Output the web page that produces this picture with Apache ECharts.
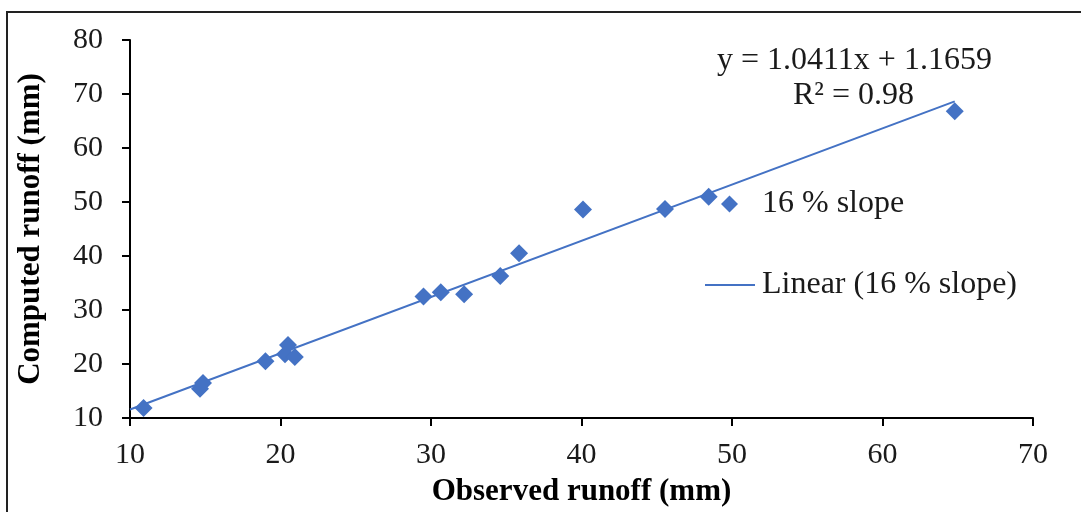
<!DOCTYPE html>
<html>
<head>
<meta charset="utf-8">
<script src="https://cdn.jsdelivr.net/npm/echarts@6/dist/echarts.min.js"></script>
<style>
  html, body { margin: 0; padding: 0; background: #fff; }
  #chart { width: 1081px; height: 512px; }
</style>
</head>
<body>
<div id="chart"></div>
<script>
// Observed vs computed runoff (mm), 16 % slope plots
const observed = [10.9, 14.65, 14.85, 19.0, 20.5, 20.3, 20.95, 29.5, 30.65, 32.2, 34.6, 35.85, 40.1, 45.55, 48.45, 64.8];
const computed = [11.85, 15.4, 16.5, 20.5, 23.5, 21.8, 21.3, 32.5, 33.3, 32.9, 36.3, 40.5, 48.6, 48.7, 50.95, 66.8];

// Linear trend line coefficients and fit quality
const trendSlope = 1.0411;
const trendIntercept = 1.1659;
const rSquared = 0.98;

const seriesName = '16 % slope';
const trendName = 'Linear (16 % slope)';

const xTicks = { min: 10, max: 70, interval: 10 };
const yTicks = { min: 10, max: 80, interval: 10 };

const points = observed.map((x, i) => [x, computed[i]]);
const trendX = [xTicks.min, Math.max(...observed)];
const trendLine = trendX.map(x => [x, trendSlope * x + trendIntercept]);

const blue = '#4472C4';
const serif = '"Liberation Serif", "Times New Roman", serif';
const textColor = '#1a1a1a';

const chart = echarts.init(document.getElementById('chart'), null, { renderer: 'canvas' });

const axisCommon = {
  type: 'value',
  splitLine: { show: false },
  axisLine: { show: true, lineStyle: { color: '#000', width: 2 } },
  axisTick: { show: true, inside: false, length: 8, lineStyle: { color: '#000', width: 2 } },
  nameLocation: 'middle',
  nameTextStyle: { fontFamily: serif, fontSize: 31, fontWeight: 'bold', color: '#000' },
  axisLabel: { fontFamily: serif, fontSize: 30, color: textColor }
};

const legendText = { fontFamily: serif, fontSize: 32, color: textColor };

chart.setOption({
  animation: false,
  backgroundColor: '#fff',
  grid: { left: 130, right: 48, top: 40, bottom: 93, containLabel: false },
  xAxis: Object.assign({}, axisCommon, {
    min: xTicks.min, max: xTicks.max, interval: xTicks.interval,
    name: 'Observed runoff (mm)', nameGap: 58,
    axisLabel: Object.assign({}, axisCommon.axisLabel, { margin: 22 })
  }),
  yAxis: Object.assign({}, axisCommon, {
    min: yTicks.min, max: yTicks.max, interval: yTicks.interval,
    name: 'Computed runoff (mm)', nameGap: 84, nameRotate: 90,
    axisLabel: Object.assign({}, axisCommon.axisLabel, { margin: 27 })
  }),
  legend: [
    {
      // marker entry
      left: 721, top: 188, padding: 0,
      itemWidth: 17, itemHeight: 17,
      symbolKeepAspect: true,
      textStyle: Object.assign({ padding: [0, 0, 0, 19] }, legendText),
      data: [{ name: seriesName, icon: 'diamond' }]
    },
    {
      // trend line entry, drawn as a plain stroke
      left: 705, top: 269, padding: 0,
      itemWidth: 50, itemHeight: 17,
      symbolKeepAspect: true,
      textStyle: Object.assign({ padding: [0, 0, 0, 2] }, legendText),
      data: [{ name: trendName, icon: 'path://M0,0h50v2h-50z', itemStyle: { color: blue } }]
    }
  ],
  series: [
    {
      name: seriesName,
      type: 'scatter',
      symbol: 'diamond',
      symbolSize: 18,
      itemStyle: { color: blue, opacity: 1 },
      data: points,
      z: 3
    },
    {
      name: trendName,
      type: 'line',
      symbol: 'none',
      showSymbol: false,
      lineStyle: { color: blue, width: 2 },
      itemStyle: { color: blue },
      data: trendLine,
      z: 2
    }
  ],
  graphic: [
    {
      type: 'rect', silent: true,
      shape: { x: 7, y: 12, width: 1200, height: 600 },
      style: { fill: 'none', stroke: '#222', lineWidth: 2 }
    },
    {
      type: 'text', left: 717, top: 45,
      style: { text: 'y = ' + trendSlope.toFixed(4) + 'x + ' + trendIntercept.toFixed(4), font: '32px ' + serif, fill: textColor }
    },
    {
      type: 'text', left: 793, top: 80,
      style: { text: 'R² = ' + rSquared.toFixed(2), font: '32px ' + serif, fill: textColor }
    }
  ]
});
</script>
</body>
</html>
